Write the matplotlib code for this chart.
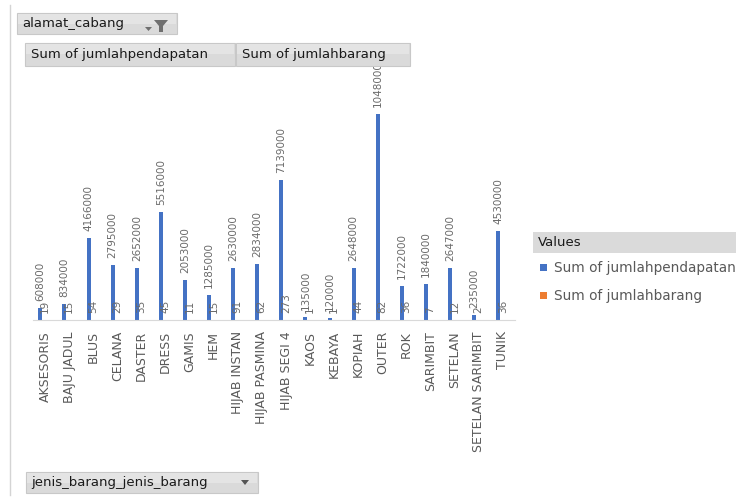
import numpy as np
import matplotlib
matplotlib.use("Agg")
import matplotlib.pyplot as plt
from matplotlib.patches import Rectangle, Polygon

# data
jenis_barang = ["AKSESORIS", "BAJU JADUL", "BLUS", "CELANA", "DASTER", "DRESS",
                "GAMIS", "HEM", "HIJAB INSTAN", "HIJAB PASMINA", "HIJAB SEGI 4",
                "KAOS", "KEBAYA", "KOPIAH", "OUTER", "ROK", "SARIMBIT", "SETELAN",
                "SETELAN SARIMBIT", "TUNIK"]
jumlahpendapatan = [608000, 834000, 4166000, 2795000, 2652000, 5516000,
                    2053000, 1285000, 2630000, 2834000, 7139000,
                    135000, 120000, 2648000, 10480000, 1722000, 1840000, 2647000,
                    235000, 4530000]
jumlahbarang = [19, 15, 54, 29, 35, 45, 11, 15, 91, 62, 273,
                1, 1, 44, 82, 36, 7, 12, 2, 36]

W, H = 736, 499
BLUE = "#4472C4"
ORANGE = "#ED7D31"
GREY_TXT = "#595959"

fig = plt.figure(figsize=(W / 100, H / 100), dpi=100)
fig.patch.set_facecolor("white")


def fx(px):
    return px / W


def fy(py):
    return 1 - py / H


def button(x0, y0, x1, y1, label, tx):
    fig.patches.append(Rectangle((fx(x0), fy(y1)), fx(x1 - x0), (y1 - y0) / H,
                                 transform=fig.transFigure, facecolor="#dadada",
                                 edgecolor="#c8c8c8", lw=0.8))
    # lighter upper half for the gradient look
    fig.patches.append(Rectangle((fx(x0 + 1), fy((y0 + y1) / 2)), fx(x1 - x0 - 2),
                                 (y1 - y0) / 2 / H - 1 / H,
                                 transform=fig.transFigure, facecolor="#e4e4e4",
                                 edgecolor="none"))
    fig.text(fx(tx), fy((y0 + y1) / 2), label, fontsize=9.5, color="#1a1a1a",
             va="center", ha="left")


# left frame line
fig.add_artist(plt.Line2D([fx(10), fx(10)], [fy(5), fy(495)],
                          transform=fig.transFigure, color="#d4d4d4", lw=1))

# pivot field buttons
button(17, 13, 177, 34, "alamat_cabang", 22)
fig.patches.append(Polygon([(fx(154), fy(20)), (fx(168), fy(20)), (fx(163), fy(26)),
                            (fx(163), fy(32)), (fx(159), fy(32)), (fx(159), fy(26))],
                           closed=True, transform=fig.transFigure,
                           facecolor="#6f6f6f", edgecolor="none"))
fig.patches.append(Polygon([(fx(145), fy(27)), (fx(152), fy(27)), (fx(148.5), fy(31))],
                           closed=True, transform=fig.transFigure,
                           facecolor="#6f6f6f", edgecolor="none"))
button(25, 43, 235, 66, "Sum of jumlahpendapatan", 31)
button(236, 43, 410, 66, "Sum of jumlahbarang", 242)
button(26, 472, 258, 493, "jenis_barang_jenis_barang", 31)
fig.patches.append(Polygon([(fx(241), fy(480)), (fx(249), fy(480)), (fx(245), fy(485))],
                           closed=True, transform=fig.transFigure,
                           facecolor="#555555", edgecolor="none"))

# legend
fig.patches.append(Rectangle((fx(533), fy(253)), fx(W - 533), 21 / H,
                             transform=fig.transFigure, facecolor="#dadada",
                             edgecolor="none"))
fig.text(fx(538), fy(242.5), "Values", fontsize=9.5, color="#1a1a1a",
         va="center", ha="left")
for yy, col, lab in [(268, BLUE, "Sum of jumlahpendapatan"),
                     (296, ORANGE, "Sum of jumlahbarang")]:
    fig.patches.append(Rectangle((fx(540), fy(yy + 3)), fx(7), 7 / H,
                                 transform=fig.transFigure, facecolor=col,
                                 edgecolor="none"))
    fig.text(fx(554), fy(yy), lab, fontsize=9.8, color=GREY_TXT,
             va="center", ha="left")

# chart
ax = fig.add_axes([fx(33), fy(320), fx(515 - 33), 250 / H])
x = np.arange(len(jenis_barang))
w = 0.17
b1 = ax.bar(x - 0.195, jumlahpendapatan, width=w, color=BLUE)
b2 = ax.bar(x - 0.195 + 0.185, jumlahbarang, width=w, color=ORANGE)

for bars, vals in [(b1, jumlahpendapatan), (b2, jumlahbarang)]:
    for r, v in zip(bars, vals):
        ax.annotate(str(v), (r.get_x() + r.get_width() / 2, r.get_height()),
                    xytext=(0, 5), textcoords="offset points", rotation=90,
                    ha="center", va="bottom", fontsize=7.5, color="#6a6a6a",
                    annotation_clip=False)

ax.set_xlim(-0.5, len(jenis_barang) - 0.5)
ax.set_ylim(0, 250 / 19.63e-6)
ax.set_xticks(x)
ax.set_xticklabels(jenis_barang, rotation=90, fontsize=9, color=GREY_TXT)
ax.tick_params(axis="x", length=0, pad=8)
ax.set_yticks([])
for s in ["top", "right", "left"]:
    ax.spines[s].set_visible(False)
ax.spines["bottom"].set_color("#d9d9d9")
ax.patch.set_alpha(0)

fig.savefig("out.png", dpi=100)
